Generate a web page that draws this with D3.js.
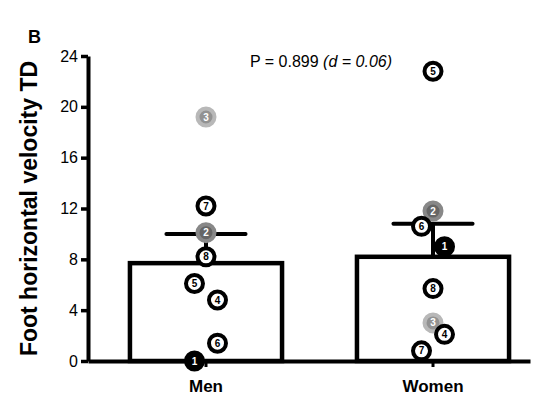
<!DOCTYPE html>
<html>
<head>
<meta charset="utf-8">
<script src="https://cdn.jsdelivr.net/npm/d3@7"></script>
<style>
  body { margin: 0; background: #fff; }
  text { font-family: "Liberation Sans", Arial, sans-serif; }
</style>
</head>
<body>
<svg id="chart"></svg>
<script>
// Data
const groups = ["Men", "Women"];
const groupMeans = [7.7, 8.2];
const groupSem = [2.3, 2.6];
const subjects = [1, 2, 3, 4, 5, 6, 7, 8];
const menValues = [0, 10.1, 19.2, 4.8, 6.1, 1.4, 12.2, 8.2];
const womenValues = [9.0, 11.8, 3.0, 2.1, 22.8, 10.6, 0.8, 5.7];
// horizontal jitter column for each subject (-1 left, 0 centre, 1 right)
const menJitter = [-1, 0, 0, 1, -1, 1, 0, 0];
const womenJitter = [1, 0, 0, 1, 0, -1, -1, 0];
const yTicks = [0, 4, 8, 12, 16, 20, 24];

const W = 536, H = 397;
const svg = d3.select("#chart").attr("width", W).attr("height", H);

const x = d3.scaleBand()
  .domain(groups)
  .range([88, 530])
  .paddingInner(0.33)
  .paddingOuter(0.1385)
  .align(0.667);

const y = d3.scaleLinear().domain([0, 24]).range([361, 56]);

// panel letter
svg.append("text")
  .attr("x", 28).attr("y", 43)
  .attr("font-size", 18).attr("font-weight", "bold")
  .text("B");

// y axis title
svg.append("text")
  .attr("transform", `translate(37,${(y(0) + y(24)) / 2}) rotate(-90)`)
  .attr("text-anchor", "middle")
  .attr("font-size", 23).attr("font-weight", "bold")
  .text("Foot horizontal velocity TD");

// bars
svg.selectAll(".bar")
  .data(groups)
  .enter()
  .append("rect")
  .attr("class", "bar")
  .attr("x", (d) => x(d))
  .attr("y", (d, i) => y(groupMeans[i]))
  .attr("width", x.bandwidth())
  .attr("height", (d, i) => y(0) - y(groupMeans[i]))
  .attr("fill", "#fff")
  .attr("stroke", "#000")
  .attr("stroke-width", 4.5);

// error bars (upper SEM only)
const capHalf = x.bandwidth() * 0.26;
groups.forEach((g, i) => {
  const cx = x(g) + x.bandwidth() / 2;
  const top = y(groupMeans[i] + groupSem[i]);
  svg.append("line")
    .attr("x1", cx).attr("x2", cx)
    .attr("y1", y(groupMeans[i])).attr("y2", top)
    .attr("stroke", "#000").attr("stroke-width", 4);
  svg.append("line")
    .attr("x1", cx - capHalf).attr("x2", cx + capHalf)
    .attr("y1", top).attr("y2", top)
    .attr("stroke", "#000").attr("stroke-width", 4)
    .attr("stroke-linecap", "round");
});

// axes
const yAxis = svg.append("g")
  .attr("transform", "translate(88,0)")
  .call(d3.axisLeft(y).tickValues(yTicks).tickSize(7).tickSizeOuter(0).tickPadding(3));
yAxis.select(".domain").attr("stroke-width", 4);
yAxis.selectAll(".tick line").attr("stroke-width", 3.5);
yAxis.selectAll(".tick text")
  .attr("font-size", 16)
  .attr("font-family", "Liberation Sans, Arial, sans-serif")
  .attr("fill", "#000");

const xAxis = svg.append("g")
  .attr("transform", `translate(0,${y(0)})`)
  .call(d3.axisBottom(x).tickSize(6).tickSizeOuter(0).tickPadding(13));
xAxis.select(".domain").attr("stroke-width", 4);
xAxis.selectAll(".tick line").attr("stroke-width", 3);
xAxis.selectAll(".tick text")
  .attr("font-size", 17)
  .attr("font-weight", "bold")
  .attr("font-family", "Liberation Sans, Arial, sans-serif")
  .attr("fill", "#000");

// statistics annotation
const stat = svg.append("text")
  .attr("x", 250).attr("y", 67)
  .attr("font-size", 16);
stat.append("tspan").text("P = 0.899 ");
stat.append("tspan").attr("font-style", "italic").text("(d = 0.06)");

// individual subjects
function ringFill(id) {
  if (id === 1) return "#000";
  if (id === 2) return "#666";
  if (id === 3) return "#929292";
  return "#fff";
}
function ringStroke(id) {
  if (id === 1) return "#000";
  if (id === 2) return "#888";
  if (id === 3) return "#b8b8b8";
  return "#000";
}
const jitterStep = 11.5;
const series = [
  { group: "Men", values: menValues, jitter: menJitter },
  { group: "Women", values: womenValues, jitter: womenJitter },
];
series.forEach((s) => {
  const cx = x(s.group) + x.bandwidth() / 2;
  const pts = svg.append("g")
    .selectAll("g")
    .data(subjects)
    .enter()
    .append("g")
    .attr("transform", (d, i) => `translate(${cx + s.jitter[i] * jitterStep},${y(s.values[i])})`);
  pts.append("circle")
    .attr("r", 8.5)
    .attr("fill", (d) => ringFill(d))
    .attr("stroke", (d) => ringStroke(d))
    .attr("stroke-width", 4);
  pts.append("text")
    .attr("text-anchor", "middle")
    .attr("dy", "0.36em")
    .attr("font-size", 10)
    .attr("font-weight", "bold")
    .attr("fill", (d) => (d <= 3 ? "#fff" : "#000"))
    .text((d) => d);
});
</script>
</body>
</html>
